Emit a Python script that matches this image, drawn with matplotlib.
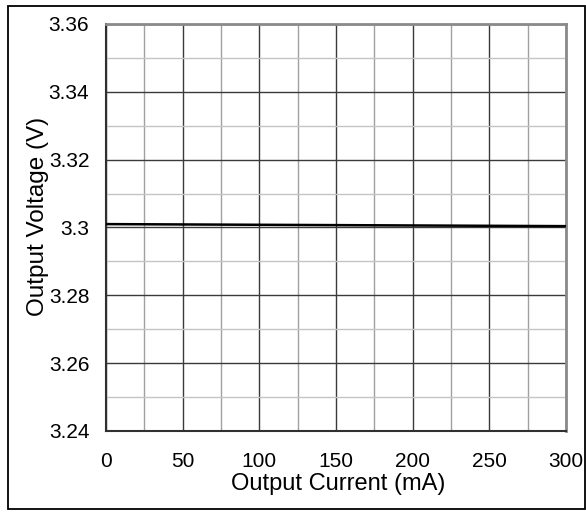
import matplotlib
matplotlib.use("Agg")
import matplotlib.pyplot as plt
from matplotlib.patches import Rectangle
from matplotlib.ticker import MultipleLocator

plt.rcParams["font.family"] = ["Liberation Sans", "DejaVu Sans"]

# measured load regulation
current_ma = [0, 50, 100, 150, 200, 250, 300]
voltage_v = [3.3010, 3.3009, 3.3008, 3.3007, 3.3006, 3.3005, 3.3004]

x_ticks = [0, 50, 100, 150, 200, 250, 300]
y_ticks = [3.24, 3.26, 3.28, 3.30, 3.32, 3.34, 3.36]
y_labels = ["3.24", "3.26", "3.28", "3.3", "3.32", "3.34", "3.36"]

fig = plt.figure(figsize=(5.86, 5.12), dpi=100)
W, H = 586, 512
ax = fig.add_axes([106 / W, 1 - 431 / H, (566 - 106) / W, (431 - 24) / H])

# outer frame
fig.patches.append(Rectangle((7.5 / W, 1 - 508.5 / H), 577 / W, 503 / H,
                             transform=fig.transFigure, fill=False,
                             edgecolor="black", lw=1.3))

ax.plot(current_ma, voltage_v, color="black", lw=1.8, zorder=3)

ax.set_xlim(0, 300)
ax.set_ylim(3.24, 3.36)
ax.set_xticks(x_ticks)
ax.set_yticks(y_ticks)
ax.set_yticklabels(y_labels)
ax.xaxis.set_minor_locator(MultipleLocator(25))
ax.yaxis.set_minor_locator(MultipleLocator(0.01))

ax.grid(which="major", color="#3a3a3a", lw=1.0)
ax.grid(which="minor", axis="x", color="#a0a0a0", lw=1.0)
ax.grid(which="minor", axis="y", color="#c4c4c4", lw=1.0)
ax.set_axisbelow(True)

ax.tick_params(which="both", length=0, labelsize=15, colors="black")
ax.tick_params(axis="x", pad=15)
ax.tick_params(axis="y", pad=12)

for side in ["left", "bottom"]:
    ax.spines[side].set_color("#303030")
    ax.spines[side].set_linewidth(1.5)
for side in ["right", "top"]:
    ax.spines[side].set_color("#8a8a8a")
    ax.spines[side].set_linewidth(2.0)

ax.set_xlabel("Output Current (mA)", fontsize=17)
ax.set_ylabel("Output Voltage (V)", fontsize=17.5)
ax.xaxis.set_label_coords(0.505, -0.104)
ax.yaxis.set_label_coords(-0.124, 0.528)

fig.savefig("out.png", dpi=100)
plt.close(fig)
